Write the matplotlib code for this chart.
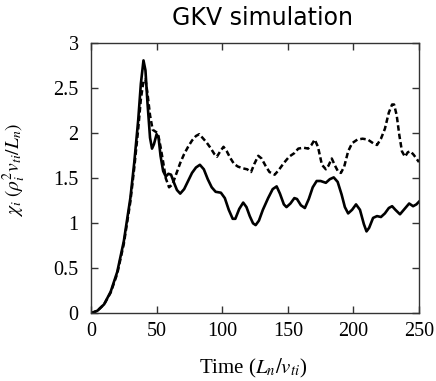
import matplotlib
matplotlib.use("Agg")
import matplotlib.pyplot as plt

plt.rcParams['mathtext.fontset'] = 'stix'

t_solid = [0, 5, 10, 15, 20, 25, 30, 33, 36, 38, 40, 41.5, 43, 45, 46.5, 48, 50, 51.5, 53, 55, 57, 59, 61, 63,
           65.5, 68, 71, 74, 77, 80, 83, 86, 89, 92, 95, 99, 102, 105, 108, 110, 113, 116, 118.5, 121, 123.5,
           125.5, 128, 131, 135, 138.5, 141.5, 144, 147, 149, 152, 155, 157, 160, 163, 166, 169, 172, 175, 179,
           182, 185, 188, 191, 193.5, 196, 199, 202, 205, 208, 210, 212, 215, 218, 221, 224, 227, 229.5, 232,
           235.5, 239, 242.5, 245.5, 248, 250]
chi_solid = [0, 0.03, 0.10, 0.24, 0.46, 0.80, 1.28, 1.68, 2.15, 2.55, 2.81, 2.70, 2.35, 1.95, 1.83, 1.88, 1.99,
             1.95, 1.75, 1.58, 1.52, 1.55, 1.54, 1.46, 1.37, 1.33, 1.38, 1.47, 1.56, 1.62, 1.65, 1.60, 1.49,
             1.40, 1.35, 1.34, 1.28, 1.15, 1.05, 1.05, 1.16, 1.23, 1.18, 1.08, 1.00, 0.98, 1.03, 1.15, 1.28,
             1.38, 1.41, 1.33, 1.21, 1.18, 1.22, 1.28, 1.27, 1.20, 1.17, 1.27, 1.40, 1.47, 1.47, 1.45, 1.49,
             1.51, 1.46, 1.32, 1.18, 1.11, 1.15, 1.21, 1.15, 0.99, 0.91, 0.95, 1.06, 1.08, 1.07, 1.11, 1.17,
             1.19, 1.15, 1.10, 1.16, 1.22, 1.19, 1.21, 1.24]

t_dash = [0, 5, 10, 15, 20, 25, 30, 33, 36, 38, 40, 41.5, 43, 45, 47, 49, 51, 53, 55, 57, 59.5, 62, 65, 68, 71,
          74, 77, 80, 82.5, 85, 88, 91, 94, 96, 98.5, 101, 103.5, 106, 109, 112, 116, 119, 122, 124.5, 127.5,
          130, 133, 136, 140, 143, 147, 151, 155, 158, 162, 165.5, 168, 170.5, 173, 176, 179, 181, 183.5, 186,
          188.5, 190.5, 193, 196, 199, 203, 207, 211, 215, 218, 221, 224, 227, 229.5, 231, 233, 235, 237,
          239.3, 241.5, 243.5, 246, 248, 250]
chi_dash = [0, 0.03, 0.10, 0.23, 0.44, 0.77, 1.24, 1.62, 2.05, 2.38, 2.58, 2.60, 2.45, 2.20, 2.04, 2.02, 2.00,
            1.85, 1.68, 1.50, 1.40, 1.43, 1.55, 1.67, 1.77, 1.85, 1.92, 1.97, 1.99, 1.95, 1.90, 1.84, 1.77,
            1.74, 1.80, 1.85, 1.80, 1.73, 1.66, 1.63, 1.61, 1.60, 1.57, 1.66, 1.75, 1.72, 1.64, 1.57, 1.54,
            1.59, 1.67, 1.74, 1.78, 1.83, 1.84, 1.83, 1.87, 1.93, 1.85, 1.65, 1.60, 1.64, 1.72, 1.64, 1.57,
            1.56, 1.63, 1.80, 1.89, 1.93, 1.94, 1.93, 1.89, 1.87, 1.94, 2.05, 2.23, 2.32, 2.32, 2.20, 1.98,
            1.80, 1.74, 1.79, 1.80, 1.76, 1.72, 1.68]

xticks = [0, 50, 100, 150, 200, 250]
yticks = [0, 0.5, 1, 1.5, 2, 2.5, 3]
ytick_labels = ['0', '0.5', '1', '1.5', '2', '2.5', '3']

fig = plt.figure(figsize=(4.36, 3.81), dpi=100)
ax = fig.add_axes([91/436, 1 - 313.3/381, (419 - 91)/436, (313.3 - 43.3)/381])

ax.plot(t_dash, chi_dash, color='black', lw=1.8, dashes=(2.2, 1.2))
ax.plot(t_solid, chi_solid, color='black', lw=1.9)

ax.set_xlim(0, 250)
ax.set_ylim(0, 3)
ax.set_xticks(xticks)
ax.set_xticklabels([str(v) for v in xticks])
ax.set_yticks(yticks)
ax.set_yticklabels(ytick_labels)
ax.tick_params(direction='in', top=True, right=True, length=5, width=1, color='#333333',
               labelsize=14.5)
ax.tick_params(axis='y', pad=9)
ax.tick_params(axis='x', pad=6)
for lab in ax.get_xticklabels() + ax.get_yticklabels():
    lab.set_fontfamily('Liberation Serif')
for s in ax.spines.values():
    s.set_linewidth(1.0)
    s.set_color('#333333')

ax.set_xlabel(r'Time ($L_n/v_{ti}$)', fontsize=15, fontfamily='Liberation Serif', va='top')
ax.xaxis.set_label_coords(0.495, (313.3 - 357) / 270)
ax.set_ylabel(r'$\chi_i\ (\rho_i^2 v_{ti}/L_n)$', fontsize=14, va='bottom')
ax.yaxis.set_label_coords((28 - 91) / 328, (313.3 - 170) / 270)

fig.text(262/436, 1 - 18/381, 'GKV simulation', ha='center', va='center',
         fontsize=17, fontfamily='DejaVu Sans')

fig.savefig('out.png', dpi=100)
